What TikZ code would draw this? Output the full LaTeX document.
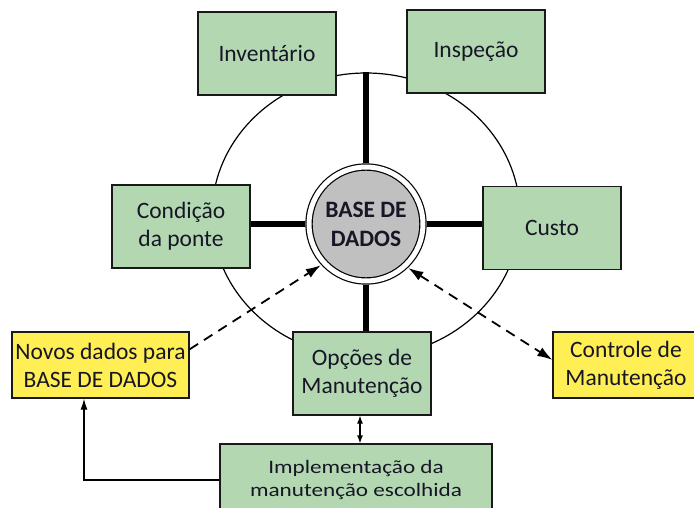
\documentclass[tikz,border=0pt]{standalone}
\usepackage{fontspec}
\setmainfont{Carlito}
\newfontfamily\widefont{Carlito}[FakeStretch=1.22]
\usetikzlibrary{shapes.geometric,arrows.meta}

\definecolor{boxgreen}{RGB}{179,216,177}
\definecolor{noteyellow}{RGB}{255,239,84}
\definecolor{basegray}{RGB}{192,192,192}
\definecolor{inkdark}{RGB}{22,22,38}

\tikzset{
	box/.style={draw=black!90, line width=1.3pt, fill=boxgreen, text=inkdark,
		minimum width=138pt, minimum height=83pt, align=center, inner sep=1pt,
		font=\fontsize{23.5}{28}\selectfont},
	note/.style={box, fill=noteyellow, minimum height=66pt},
	spoke/.style={line width=5.5pt},
	dashlink/.style={line width=1.8pt, dash pattern=on 10pt off 7pt},
	tipbig/.tip={Latex[length=15pt,width=10pt]},
	tipmid/.tip={Latex[length=11pt,width=7pt]},
	tipsmall/.tip={Latex[length=8pt,width=6pt]},
}

\begin{document}
\begin{tikzpicture}[x=1pt,y=-1pt]
		\useasboundingbox (0,0) rectangle (694,508);
		\clip (0,0) rectangle (694,508);

		% Ring behind the boxes
		\node[ellipse, draw, line width=1.2pt, minimum width=308pt, minimum height=284pt, inner sep=0pt] (ring) at (366,215) {};

		% Database in the centre
		\node[circle, draw, line width=1.2pt, double=white, double distance=5pt, fill=basegray,
			minimum size=114pt, inner sep=0pt, align=center, text=inkdark,
			font=\fontsize{23.5}{29}\bfseries\selectfont] (base) at (366,224) {BASE DE\\DADOS};

		% Boxes
		\node[box] (inventario) at (267,53.5) {Inventário};
		\node[box] (inspecao) at (476,51.5) {Inspeção};
		\node[box] (condicao) at (181,226.5) {Condição\\da ponte};
		\node[box] (custo) at (552,228) {Custo};
		\node[box] (opcoes) at (362,373.5) {Opções de\\Manutenção};
		\node[box, minimum width=272pt, minimum height=72pt, font=\widefont\fontsize{19}{23}\selectfont] (implementacao) at (356,480) {Implementação da\\manutenção escolhida};
		\node[note, minimum width=177pt] (novos) at (100.5,365) {Novos dados para\\BASE DE DADOS};
		\node[note, minimum width=146pt] (controle) at (626,365) {Controle de\\Manutenção};

		% Spokes
		\draw[spoke, shorten >=3.6pt] (ring.north) -- (base.north);
		\draw[spoke, shorten <=3.6pt] (base.west) -- (base.west -| condicao.east);
		\draw[spoke, shorten <=3.6pt] (base.east) -- (base.east -| custo.west);
		\draw[spoke, shorten <=3.6pt] (base.south) -- (base.south |- opcoes.north);

		% Arrows
		\draw[line width=1.2pt, -tipmid] (implementacao.west) -| ([xshift=-16.5pt]novos.south);
		\draw[line width=1.2pt, tipsmall-tipsmall] ([xshift=-2pt]opcoes.south) -- ([xshift=-2pt]opcoes.south |- implementacao.north);
		\draw[dashlink, -tipbig, shorten >=3.6pt] (novos.10) -- (base.223);
		\draw[dashlink, tipbig-tipbig, shorten <=3.6pt] (base.313) -- (controle.176);
	\end{tikzpicture}
\end{document}
